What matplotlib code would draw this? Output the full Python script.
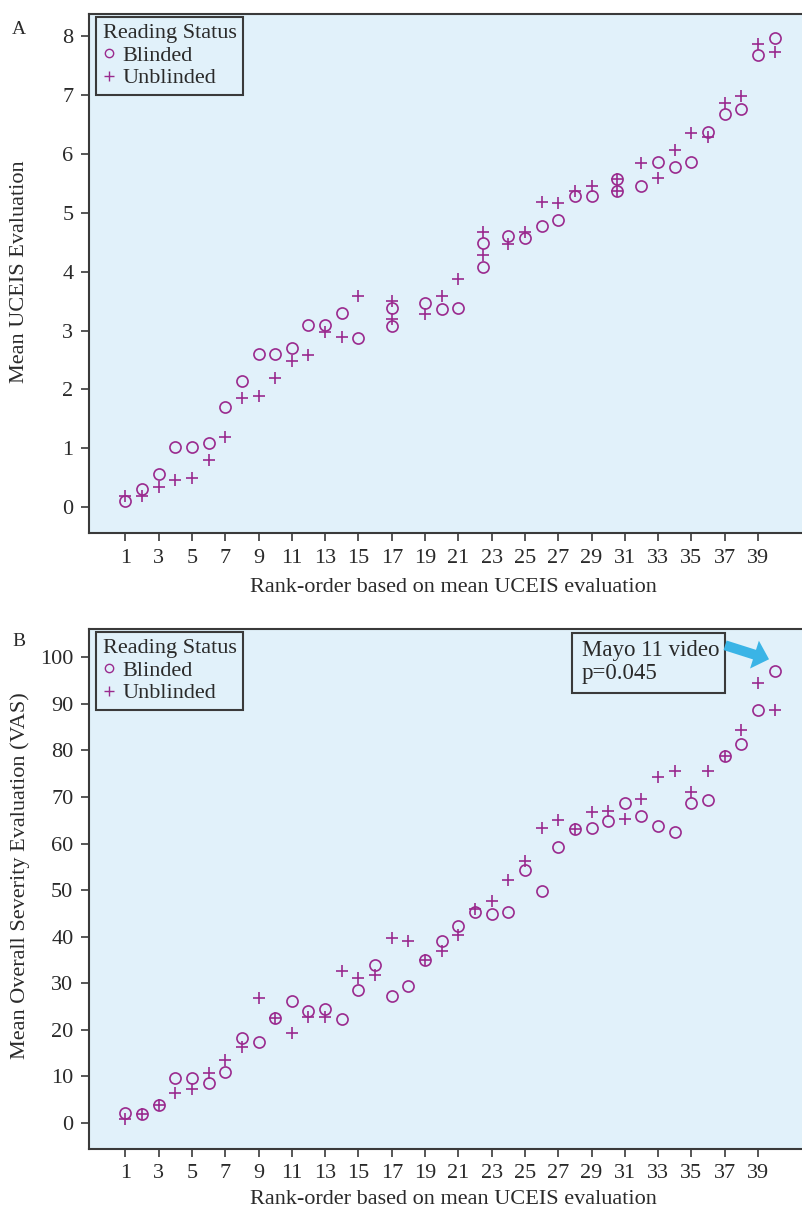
import matplotlib
matplotlib.use("Agg")
import matplotlib.pyplot as plt
from matplotlib.lines import Line2D
from matplotlib.patches import Rectangle

# ---------------- data ----------------
rank_a = [1, 2, 3, 4, 5, 6, 7, 8, 9, 10, 11, 12, 13, 14, 15, 17, 17, 19, 20, 21,
          22.5, 22.5, 24, 25, 26, 27, 28, 29, 30.5, 30.5, 32, 33, 34, 35, 36, 37, 38, 39, 40]
blind_a = [0.11, 0.32, 0.56, 1.02, 1.02, 1.10, 1.71, 2.14, 2.60, 2.60, 2.70, 3.10, 3.10, 3.29, 2.88,
           3.38, 3.08, 3.47, 3.37, 3.38, 4.49, 4.08, 4.60, 4.57, 4.78, 4.88, 5.28, 5.28, 5.57, 5.36,
           5.46, 5.86, 5.78, 5.86, 6.37, 6.67, 6.76, 7.67, 7.96]
unblind_a = [0.20, 0.19, 0.35, 0.46, 0.50, 0.81, 1.20, 1.85, 1.89, 2.19, 2.48, 2.58, 2.98, 2.89, 3.59,
             3.50, 3.20, 3.28, 3.59, 3.88, 4.67, 4.28, 4.47, 4.67, 5.18, 5.17, 5.36, 5.46, 5.57, 5.36,
             5.85, 5.58, 6.07, 6.35, 6.28, 6.86, 6.98, 7.86, 7.73]

rank_b = list(range(1, 41))
blind_b = [2.0, 1.9, 3.7, 9.7, 9.7, 8.5, 10.9, 18.3, 17.4, 22.4, 26.2, 24.0, 24.5, 22.3, 28.5,
           33.8, 27.2, 29.3, 35.0, 39.0, 42.2, 45.2, 44.9, 45.2, 54.4, 49.9, 59.3, 63.1, 63.3, 64.9,
           68.7, 66.0, 63.8, 62.4, 68.7, 69.4, 78.8, 81.3, 88.6, 97.0]
unblind_b = [0.8, 1.9, 3.7, 6.3, 7.2, 10.6, 13.5, 16.2, 26.9, 22.4, 19.3, 22.8, 22.8, 32.7, 31.2,
             31.8, 39.6, 39.0, 35.0, 36.8, 40.4, 45.9, 47.6, 52.2, 56.2, 63.4, 65.1, 63.1, 66.7, 66.9,
             65.2, 69.5, 74.3, 75.6, 71.0, 75.5, 78.8, 84.3, 94.6, 88.8]

xticks = list(range(1, 40, 2))
yticks_a = list(range(0, 9))
yticks_b = list(range(0, 101, 10))

xlabel = "Rank-order based on mean UCEIS evaluation"
ylabel_a = "Mean UCEIS Evaluation"
ylabel_b = "Mean Overall Severity Evaluation (VAS)"
legend_title = "Reading Status"
legend_labels = ["Blinded", "Unblinded"]
annot_lines = ["Mayo 11 video", "p=0.045"]

# ---------------- style ----------------
plt.rcParams['font.family'] = ['Liberation Serif', 'DejaVu Serif']
FS = 16
PURPLE = '#9a2a8e'
BG = '#e1f1fa'
DARK = '#3a3a3a'
TXT = '#2a2a2a'

W, H = 803, 1210
fig = plt.figure(figsize=(W / 100, H / 100), dpi=100)


def px_axes(x0, y0, x1, y1):
    return fig.add_axes([x0 / W, 1 - y1 / H, (x1 - x0) / W, (y1 - y0) / H])


AX_A = (88.7, 14, 803, 533.3)
AX_B = (88.7, 629, 803, 1149)
ax_a = px_axes(*AX_A)
ax_b = px_axes(*AX_B)


def style(ax, box, ylim, yticks, ylabel, xlab_y, ylab_y):
    x0, y0, x1, y1 = box
    ax.set_facecolor(BG)
    ax.set_xlim(-1.2, 41.7)
    ax.set_ylim(*ylim)
    ax.set_xticks(xticks)
    ax.set_yticks(yticks)
    ax.tick_params(direction='out', length=6, width=1.2, color=DARK,
                   labelsize=FS, labelcolor=TXT, pad=5)
    for s in ['left', 'bottom', 'top']:
        ax.spines[s].set_color(DARK)
        ax.spines[s].set_linewidth(1.5)
    ax.spines['right'].set_visible(False)
    ax.set_xlabel(xlabel, fontsize=FS, color=TXT)
    ax.set_ylabel(ylabel, fontsize=FS, color=TXT)
    ax.xaxis.set_label_coords((453 - x0) / (x1 - x0), (y1 - xlab_y) / (y1 - y0))
    ax.xaxis.label.set_va('center')
    ax.yaxis.set_label_coords((20 - x0) / (x1 - x0), (y1 - ylab_y) / (y1 - y0))
    ax.yaxis.label.set_va('center')
    handles = [Line2D([], [], ls='none', marker='o', mfc='none', mec=PURPLE, ms=6, mew=1.0),
               Line2D([], [], ls='none', marker='+', color=PURPLE, ms=7, mew=1.0)]
    leg = ax.legend(handles, legend_labels, title=legend_title, loc='upper left',
                    bbox_to_anchor=(0.0102, 0.994), borderaxespad=0, fontsize=FS,
                    title_fontsize=FS, handlelength=0.6, handletextpad=0.3,
                    labelspacing=0.1, borderpad=0.3, alignment='left',
                    fancybox=False, framealpha=1, facecolor=BG, edgecolor=DARK)
    leg.get_frame().set_linewidth(1.5)
    for t in leg.get_texts():
        t.set_color(TXT)
    leg.get_title().set_color(TXT)


def points(ax, xr, yb, yu):
    ax.plot(xr, yb, ls='none', marker='o', mfc='none', mec=PURPLE, ms=8, mew=1.2)
    ax.plot(xr, yu, ls='none', marker='+', color=PURPLE, ms=8.5, mew=1.2)


style(ax_a, AX_A, (-0.44, 8.37), yticks_a, ylabel_a, 587, 272)
points(ax_a, rank_a, blind_a, unblind_a)

style(ax_b, AX_B, (-5.65, 106.1), yticks_b, ylabel_b, 1199, 876)
points(ax_b, rank_b, blind_b, unblind_b)

# annotation box and arrow in panel B
ax_b.add_patch(Rectangle((0.676, 0.8775), 0.215, 0.1142, transform=ax_b.transAxes,
                         facecolor=BG, edgecolor=DARK, lw=1.5, zorder=5))
ax_b.text(0.6906, 0.9596, annot_lines[0], transform=ax_b.transAxes, fontsize=FS + 0.5,
          color=TXT, va='center', ha='left', zorder=6)
ax_b.text(0.6906, 0.9148, annot_lines[1], transform=ax_b.transAxes, fontsize=FS + 0.5,
          color=TXT, va='center', ha='left', zorder=6)
ax_b.annotate('', xy=(39.66, 99.6), xytext=(37.02, 102.6),
              arrowprops=dict(arrowstyle='simple,head_length=0.55,head_width=1.05,tail_width=0.36',
                              mutation_scale=20, color='#3ab4e6', lw=0, shrinkA=0, shrinkB=0),
              zorder=6)

fig.text(12 / W, 1 - 30 / H, "A", fontsize=14, color=TXT, ha='left', va='center')
fig.text(12 / W, 1 - 642 / H, "B", fontsize=14, color=TXT, ha='left', va='center')

fig.savefig("out.png", dpi=100)
